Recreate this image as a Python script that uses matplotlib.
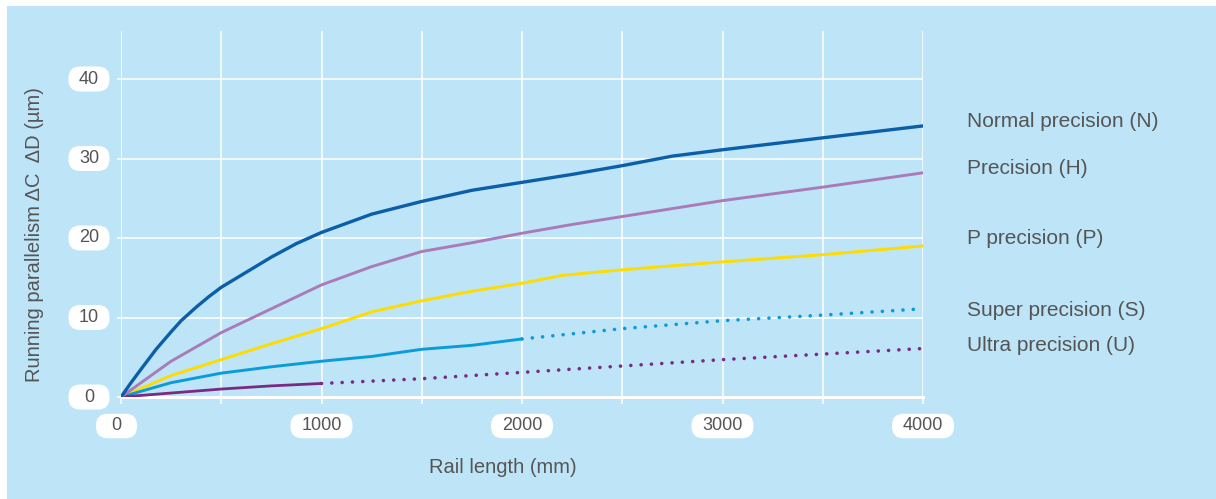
import numpy as np
import matplotlib
matplotlib.use("Agg")
import matplotlib.pyplot as plt
from matplotlib.patches import FancyBboxPatch, Rectangle
from matplotlib.transforms import ScaledTranslation

plt.rcParams['font.family'] = ['Liberation Sans', 'DejaVu Sans']

# values (rail length in mm, parallelism in um)
n_x = [0, 50, 100, 175, 250, 300, 375, 437, 500, 625, 750, 875, 1000, 1250, 1500,
       1750, 2000, 2250, 2500, 2750, 3000, 3500, 4000]
n_y = [0, 1.8, 3.5, 6.0, 8.2, 9.6, 11.3, 12.6, 13.8, 15.7, 17.6, 19.3, 20.7, 23.0,
       24.6, 26.0, 27.0, 28.0, 29.1, 30.3, 31.1, 32.6, 34.1]

h_x = [0, 250, 500, 750, 1000, 1250, 1500, 1750, 2000, 2250, 2500, 2750, 3000, 3500, 4000]
h_y = [0, 4.5, 8.1, 11.1, 14.1, 16.4, 18.3, 19.4, 20.6, 21.7, 22.7, 23.7, 24.7, 26.4, 28.2]

p_x = [0, 250, 500, 750, 1000, 1250, 1500, 1750, 2000, 2200, 2500, 2750, 3000, 3500, 4000]
p_y = [0, 2.7, 4.7, 6.7, 8.6, 10.7, 12.1, 13.3, 14.3, 15.3, 16.0, 16.5, 17.0, 17.9, 19.0]

s_x = [0, 250, 500, 750, 1000, 1250, 1500, 1750, 2000]
s_y = [0, 1.8, 3.0, 3.8, 4.5, 5.1, 6.0, 6.5, 7.3]
s_ext_x = [2000, 2500, 3000, 3500, 4000]
s_ext_y = [7.3, 8.6, 9.6, 10.3, 11.1]

u_x = [0, 250, 500, 750, 1000]
u_y = [0, 0.5, 1.0, 1.4, 1.7]
u_ext_x = [1000, 1500, 2000, 2500, 3000, 3500, 4000]
u_ext_y = [1.7, 2.3, 3.1, 3.9, 4.7, 5.4, 6.1]

series_names = ["Normal precision (N)", "Precision (H)", "P precision (P)",
                "Super precision (S)", "Ultra precision (U)"]
name_y = [34.6, 28.8, 19.9, 10.9, 6.5]

x_ticks = [0, 1000, 2000, 3000, 4000]
y_ticks = [0, 10, 20, 30, 40]

bg = '#bee4f8'
txt = '#555555'
c_n, c_h, c_p, c_s, c_u = '#0b5ea8', '#a97cb8', '#ffdc00', '#0a9bd9', '#7a2a84'

fig = plt.figure(figsize=(12.16, 4.99), dpi=100)
fig.patch.set_facecolor('white')
fig.patches.append(Rectangle((7 / 1216, 0), 1, 1 - 6 / 499, transform=fig.transFigure,
                             facecolor=bg, edgecolor='none', zorder=-10))

ax = fig.add_axes([121 / 1216, 102 / 499, 802 / 1216, 365.7 / 499])
ax.set_facecolor(bg)
ax.set_xlim(0, 4000)
ax.set_ylim(0, 46)
ax.set_xticks(np.arange(0, 4001, 500))
ax.set_yticks(np.arange(0, 41, 10))
ax.set_xticklabels([])
ax.set_yticklabels([])
ax.grid(True, color='white', lw=1.1)
ax.set_axisbelow(True)
ax.tick_params(axis='x', direction='out', length=5, width=1.1, color='white')
ax.tick_params(axis='y', direction='out', length=2.8, width=1.1, color='white')
for side in ['top', 'left', 'right']:
    ax.spines[side].set_visible(False)
ax.spines['bottom'].set_color('white')
ax.spines['bottom'].set_linewidth(2.2)

# curves
ax.plot(n_x, n_y, color=c_n, lw=2.4, solid_capstyle='round',
        solid_joinstyle='round', zorder=5)
ax.plot(h_x, h_y, color=c_h, lw=2.1, solid_capstyle='round',
        solid_joinstyle='round', zorder=4)
ax.plot(p_x, p_y, color=c_p, lw=2.1, solid_capstyle='round',
        solid_joinstyle='round', zorder=3)
ax.plot(s_x, s_y, color=c_s, lw=2.1, solid_capstyle='round',
        solid_joinstyle='round', zorder=3)
ax.plot(s_ext_x, s_ext_y, color=c_s, lw=2.6, dashes=(0.01, 2.85),
        dash_capstyle='round', zorder=3)
ax.plot(u_x, u_y, color=c_u, lw=2.0, solid_capstyle='round',
        solid_joinstyle='round', zorder=3)
ax.plot(u_ext_x, u_ext_y, color=c_u, lw=2.6, dashes=(0.01, 2.85),
        dash_capstyle='round', zorder=3)

# tick labels in white pill boxes
def pill(xd, yd, dx, dy, w, h, label):
    tr = fig.dpi_scale_trans + ScaledTranslation(xd, yd, ax.transData)
    box = FancyBboxPatch((dx - w / 2, dy - h / 2), w, h,
                         boxstyle='round,pad=0,rounding_size=0.115',
                         transform=tr, facecolor='white', edgecolor='none',
                         clip_on=False, zorder=6)
    ax.add_patch(box)
    ax.text(dx, dy, label, transform=tr, ha='center', va='center',
            fontsize=13, color=txt, clip_on=False, zorder=7)

for v in y_ticks:
    pill(0, v, -0.32, 0, 0.41, 0.25, str(v))
for v in x_ticks:
    w = 0.41 if v == 0 else 0.62
    dx = -0.045 if v == 0 else 0
    pill(v, 0, dx, -0.29, w, 0.245, str(v))

# series names on the right
for name, yv in zip(series_names, name_y):
    ax.text(1.055, yv, name, transform=ax.get_yaxis_transform(), ha='left',
            va='center', fontsize=15, color=txt)

ax.set_xlabel('Rail length (mm)', fontsize=14.5, color=txt)
ax.xaxis.set_label_coords(0.4762, -0.168)
ax.set_ylabel('Running parallelism ΔC  ΔD (µm)', fontsize=14.5, color=txt)
ax.yaxis.set_label_coords(-0.096, 0.443)

fig.savefig('out.png', dpi=100, facecolor=fig.get_facecolor())
